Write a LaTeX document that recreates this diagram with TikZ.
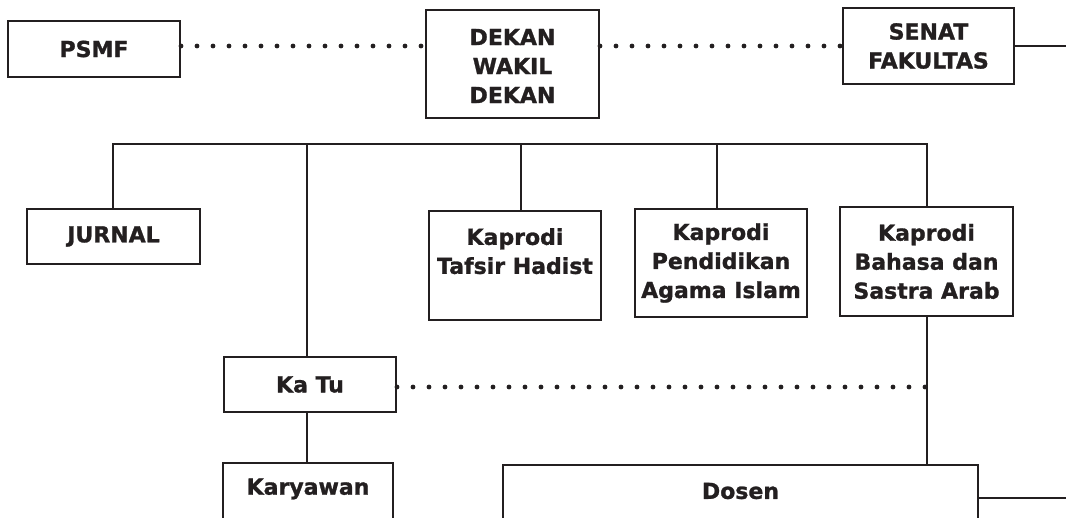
\documentclass[tikz,border=0pt]{standalone}
\usepackage{fontspec}
\setmainfont{DejaVu Sans}[BoldFeatures={FakeBold=1.2}]
\definecolor{ink}{HTML}{231F20}
\begin{document}
\begin{tikzpicture}[x=1pt,y=-1pt,
  box/.style={draw=ink, line width=2pt, inner sep=0pt, align=center, text=ink,
    font=\fontsize{22}{29}\selectfont\bfseries},
  lbl/.style={inner sep=0pt, align=center, text=ink, font=\fontsize{22}{29}\selectfont\bfseries},
  conn/.style={draw=ink, line width=2pt},
  dots/.style={draw=ink, line width=4.8pt, line cap=round, dash pattern=on 0pt off 16pt}]
\useasboundingbox[fill=white] (0,0) rectangle (1066,517);
% top row
\node[box, minimum width=172pt, minimum height=56pt] (psmf) at (94,49) {PSMF};
\node[box, minimum width=173pt, minimum height=108pt] (dekan) at (512.5,64) {};
\node[lbl] (dekanlbl) at (512.5,66) {DEKAN\\WAKIL\\DEKAN};
\node[box, minimum width=171pt, minimum height=76pt] (senat) at (928.5,46) {SENAT\\FAKULTAS};
\coordinate (topline) at (0,46);
\coordinate (senatend) at (1066,46);
% second row
\node[box, minimum width=173pt, minimum height=55pt] (jurnal) at (113.5,236.5) {JURNAL};
\node[box, minimum width=172pt, minimum height=109pt] (tafsir) at (515,265.5) {Kaprodi\\Tafsir Hadist\\\mbox{}};
\node[box, minimum width=172pt, minimum height=108pt] (pai) at (721,263) {Kaprodi\\Pendidikan\\Agama Islam};
\node[box, minimum width=173pt, minimum height=109pt] (bsa) at (926.5,261.5) {Kaprodi\\Bahasa dan\\Sastra Arab};
% lower rows
\node[box, minimum width=172pt, minimum height=55pt] (katu) at (310,384.5) {Ka Tu};
\node[box, minimum width=170pt, minimum height=66pt, anchor=north] (karyawan) at (308,462) {};
\node[lbl] (karyawanlbl) at (308,489) {Karyawan};
\node[box, minimum width=475pt, minimum height=66pt, anchor=north] (dosen) at (740.5,464) {};
\node[lbl] (dosenlbl) at (740.5,491) {Dosen};
\coordinate (dosenend) at (1066,498);
% bus
\coordinate (b1) at (113,144);
\coordinate (b2) at (307,144);
\coordinate (b3) at (521,144);
\coordinate (b4) at (717,144);
\coordinate (b5) at (927,144);
\coordinate (dotend) at (927,387);
% connectors
\draw[dots] (psmf.east |- topline) -- (dekan.west |- topline);
\draw[dots] (dekan.east |- topline) -- (senat.west |- topline);
\draw[conn] (senat.east) -- (senatend);
\draw[conn] (b1 |- jurnal.north) -- (b1) -- (b5) -- (b5 |- bsa.north);
\draw[conn] (b2) -- (b2 |- katu.north);
\draw[conn] (b3) -- (b3 |- tafsir.north);
\draw[conn] (b4) -- (b4 |- pai.north);
\draw[conn] (b2 |- katu.south) -- (b2 |- karyawan.north);
\draw[conn] (b5 |- bsa.south) -- (b5 |- dosen.north);
\draw[dots] (katu.east |- dotend) -- (dotend);
\draw[conn] (dosen.east |- dosenend) -- (dosenend);
\end{tikzpicture}
\end{document}
